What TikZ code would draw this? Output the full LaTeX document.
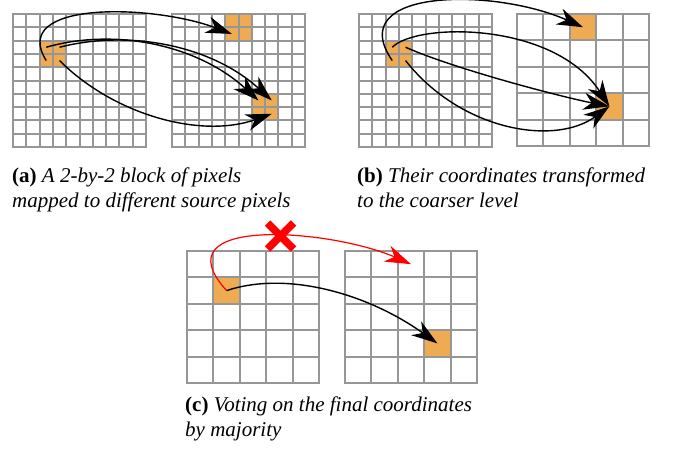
\documentclass[tikz,border=0pt]{standalone}
\usepackage{fontspec}
\setmainfont{Liberation Serif}
\usetikzlibrary{arrows.meta}
\definecolor{pixorange}{RGB}{239,171,82}
\definecolor{gridgray}{RGB}{150,150,150}
\newcommand{\pixgrid}[4]{%
  \foreach \i in {0,...,#3}{%
    \pgfmathsetmacro{\gp}{round(\i*#4)}%
    \pgfmathsetmacro{\ge}{round(#3*#4)}%
    \draw[gridline] ({#1+\gp},#2) -- ({#1+\gp},{#2+\ge});
    \draw[gridline] (#1,{#2+\gp}) -- ({#1+\ge},{#2+\gp});
  }}
\begin{document}
\begin{tikzpicture}[x=1pt,y=-1pt,
  gridline/.style={draw=gridgray,line width=2pt,line cap=rect},
  pix/.style={fill=pixorange},
  maparrow/.style={line width=1.4pt,-{Stealth[length=26pt,width=17pt,inset=8pt]}},
  redarrow/.style={red,line width=1.2pt,-{Stealth[length=26pt,width=17pt,inset=8pt]}},
  redx/.style={red,line width=7.5pt},
  captext/.style={anchor=base west,inner sep=0pt,font=\fontsize{21}{25}\selectfont}]
\useasboundingbox (0,0) rectangle (678,454);

% ---------- (a) ----------
\fill[pix] (40,41) rectangle (66,67);
\fill[pix] (225,14) rectangle (252,41);
\fill[pix] (252,94) rectangle (278,120);
\pixgrid{13}{14}{10}{13.3}
\pixgrid{172}{14}{10}{13.3}

\coordinate (aTL) at (46.25,47.25);
\coordinate (aTR) at (59.55,47.25);
\coordinate (aBL) at (46.25,60.55);
\coordinate (aBR) at (59.55,60.55);
\coordinate (aT41) at (231.85,33.95);
\coordinate (aT66) at (258.45,100.45);
\coordinate (aT76) at (271.75,100.45);
\coordinate (aT77) at (271.75,113.75);

\draw[maparrow] (aBL) .. controls +(-38,-60) and +(-80,-30) .. (aT41);
\draw[maparrow] (aTL) .. controls +(70,-20) and +(-60,-55) .. (aT66);
\draw[maparrow] (aTR) .. controls +(70,-18) and +(-60,-55) .. (aT76);
\draw[maparrow] (aBR) .. controls +(55,55) and +(-70,25) .. (aT77);

% ---------- (b) ----------
\fill[pix] (386,41) rectangle (412,67);
\fill[pix] (570,14) rectangle (597,40);
\fill[pix] (597,93) rectangle (623,120);
\pixgrid{359}{14}{10}{13.3}
\pixgrid{517}{14}{5}{26.4}

\coordinate (bTL) at (392.25,47.25);
\coordinate (bTR) at (405.55,47.25);
\coordinate (bBL) at (392.25,60.55);
\coordinate (bBR) at (405.55,60.55);
\coordinate (bT20) at (583,27.2);
\coordinate (bT33) at (609.4,106.4);

\draw[maparrow] (bBL) .. controls +(-50,-72) and +(-90,-40) .. (bT20);
\draw[maparrow] (bTL) .. controls +(25,-25) and +(-55,-85) .. (bT33);
\draw[maparrow] (bTR) .. controls +(50,22) and +(-50,-10) .. (bT33);
\draw[maparrow] (bBR) .. controls +(55,70) and +(-55,40) .. (bT33);

% ---------- (c) ----------
\fill[pix] (213,277) rectangle (240,304);
\fill[pix] (424,330) rectangle (451,357);
\pixgrid{187}{251}{5}{26.4}
\pixgrid{345}{251}{5}{26.4}

\coordinate (cS) at (226.6,290.6);
\coordinate (cT33) at (437.4,343.4);
\coordinate (cT20) at (411,264.2);
\coordinate (xmark) at (280.5,236);

\draw[redarrow] (cS) .. controls (158,215) and (331,229) .. (cT20);
\draw[redx] (xmark) ++(-13,-13) -- ++(26,26);
\draw[redx] (xmark) ++(-13,13) -- ++(26,-26);
\draw[maparrow] (cS) .. controls +(60,-20) and +(-70,-50) .. (cT33);

% ---------- captions ----------
\node[captext] (capa1) at (12,183) {\textbf{(a)} \textit{A 2-by-2 block of pixels}};
\node[captext] (capa2) at (12,208) {\textit{mapped to different source pixels}};
\node[captext] (capb1) at (357,183) {\textbf{(b)} \textit{Their coordinates transformed}};
\node[captext] (capb2) at (357,208) {\textit{to the coarser level}};
\node[captext] (capc1) at (185,412) {\textbf{(c)} \textit{Voting on the final coordinates}};
\node[captext] (capc2) at (185,437) {\textit{by majority}};
\end{tikzpicture}
\end{document}
